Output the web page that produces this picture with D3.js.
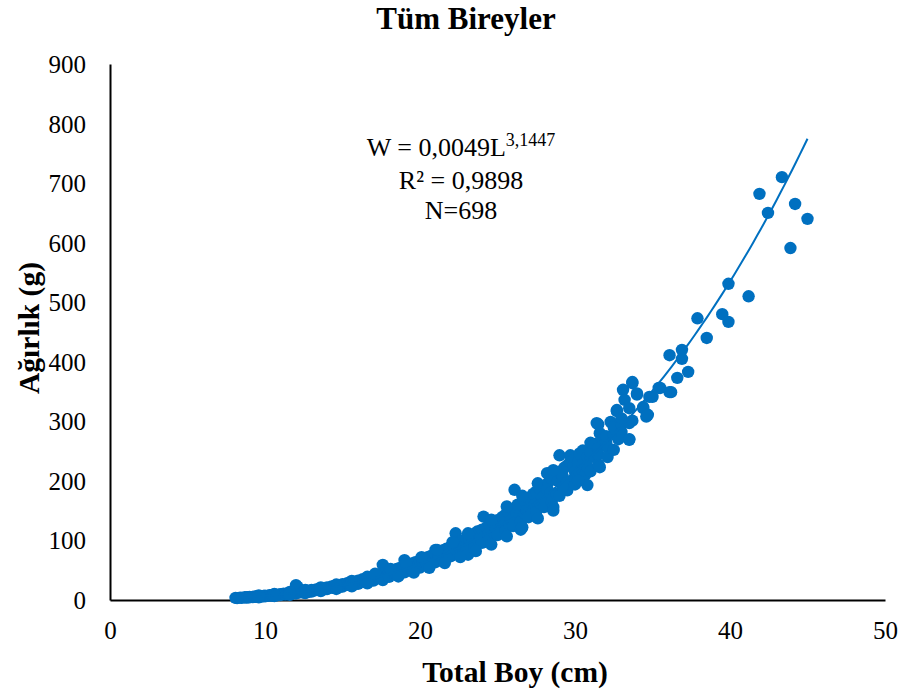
<!DOCTYPE html>
<html>
<head>
<meta charset="utf-8">
<script src="https://cdn.jsdelivr.net/npm/d3@7"></script>
<style>
  html, body { margin: 0; padding: 0; background: #fff; }
  svg { display: block; }
</style>
</head>
<body>
<svg id="chart" width="906" height="695"></svg>
<script>
// ---- Data ----
const chartTitle = "Tüm Bireyler";
const xAxisTitle = "Total Boy (cm)";
const yAxisTitle = "Ağırlık (g)";
const xTicks = [0, 10, 20, 30, 40, 50];
const yTicks = [0, 100, 200, 300, 400, 500, 600, 700, 800, 900];

// Trend line W = a * L^b as printed on the chart
const trendCoef = [0.0049, 3.1447];
const trendRange = [8, 45];
const annotationLines = ["R² = 0,9898", "N=698"];

// Individual fish [total length cm, weight g] – small fish
const smallFish = [
  [8.1,3.5],[8.2,3.2],[8.4,4.0],[8.5,3.6],[8.7,4.5],[8.8,4.1],[8.9,4.7],[9.0,5.2],[9.0,4.4],
  [9.2,5.0],[9.3,5.6],[9.4,5.6],[9.5,6.2],[9.5,5.3],[9.7,6.5],[9.8,5.9],[9.9,6.6],[10.0,7.3],
  [10.0,6.2],[10.2,7.0],[10.3,8.1],[10.4,7.6],[10.5,8.5],[10.5,7.2],[10.7,8.8],[10.8,8.0],
  [10.9,8.8],[11.0,9.9],[11.0,8.4],[11.2,10.5],[11.3,9.2],[11.4,10.1],[11.5,11.6],[11.5,9.8],
  [11.7,11.2],[11.8,12.4],[11.9,11.6],[12.0,13.2],[12.0,11.0],[12.0,25],[12.1,22],[12.2,12.6],
  [12.3,14.0],[12.4,13.2],[12.5,14.8],[12.5,12.5],[12.7,15.5],[12.8,13.8],[12.9,15.0],
  [13.0,16.8],[13.0,14.2],[13.2,16.0],[13.3,17.9],[13.4,17.0],[13.5,18.8],[13.5,16.5],
  [13.7,19.5],[13.8,17.8],[13.9,19.0],[14.0,21.0],[14.0,18.2],[14.2,20.5],[14.3,22.8],
  [14.4,20.8],[14.5,23.5],[14.5,20.0],[14.7,24.8],[14.8,22.0],[14.9,23.0],[15.0,26.5],
  [15.0,22.5],[15.2,25.5],[15.3,28.0],[15.4,25.5],[15.5,29.5],[15.5,24.8],[15.7,30.5],
  [15.8,27.5],[15.9,28.0],[16.0,32.5],[16.0,27.0],[16.2,31.0],[16.3,35.0],[16.4,31.0],
  [16.5,36.0],[16.5,30.0],[16.7,38.0],[16.8,33.0],[16.9,34.0],[17.0,40.0],[17.0,32.5],
  [17.2,38.5],[17.3,42.0],[17.4,37.0],[17.5,43.5],[17.5,36.0],[17.6,59],[17.7,45.0],
  [17.8,39.5],[17.9,41.0],
  [9.6,7.5],[10.6,10],[11.6,13.5],[12.6,17],[13.6,21],[14.6,26],[15.6,32],[16.6,39],[17.1,44],
  [9.6,4.5],[10.6,6.5],[11.6,8.6],[12.6,11.5],[13.6,15],[14.6,18.5],[15.6,23],[16.6,28],[17.6,33.5]
];

// medium fish
const mediumFish = [
  [18.0,47.5],[18.0,39.0],[18.2,46.0],[18.3,50.0],[18.4,45.0],[18.5,52.0],[18.5,42.5],
  [18.7,54.0],[18.8,47.0],[18.9,49.0],[19.0,56.5],[19.0,46.5],[19.0,67],[19.2,54.5],
  [19.3,59.0],[19.4,53.0],[19.5,61.5],[19.5,50.0],[19.7,63.5],[19.8,55.0],[19.9,58.0],
  [20.0,66.0],[20.0,54.5],[20.2,64.0],[20.3,69.5],[20.4,62.0],[20.5,72.0],[20.5,58.5],
  [20.7,74.0],[20.8,64.0],[20.9,67.0],[21.0,77.0],[21.0,63.5],[21.0,84],[21.2,75.0],
  [21.3,80.5],[21.4,72.0],[21.5,83.5],[21.5,68.0],[21.7,86.0],[21.8,74.5],[21.9,78.0],
  [22.0,90.0],[22.0,73.5],[22.2,87.5],[22.3,112],[22.4,94],[22.4,84],[22.5,96.5],[22.5,78.5],
  [22.7,99.5],[22.8,86.0],[22.9,91.0],[23.0,103],[23.0,84.0],[23.1,76],[23.2,101],[23.3,108],
  [23.4,97],[23.5,111],[23.5,90],[23.7,115],[23.8,98],[23.9,104],[24.0,118],[24.0,96],
  [24.1,140],[24.2,115],[24.3,122],[24.4,110],[24.5,126],[24.5,102],[24.7,130],[24.8,112],
  [24.9,120],[25.0,134],[25.0,109],[25.2,131],[25.3,139],[25.4,125],[25.5,143],[25.5,116],
  [25.7,148],[25.8,126],[25.9,135],[26.0,152],[26.0,124],[26.1,185],[26.2,149],[26.3,160],
  [26.4,140],[26.5,162],[26.5,118],[26.5,131],[26.7,168],[26.8,144],[26.9,150],[27.0,171],
  [27.0,139],[27.2,166],[27.3,178],[27.4,160],[27.5,182],[27.5,148],[27.7,188],[27.8,160],
  [27.9,172],
  [18.1,52],[19.1,62],[20.1,72],[21.1,84],[22.1,97],[23.1,112],[24.6,135],[25.6,157],
  [26.6,175],[27.6,196],
  [18.6,39.5],[19.6,46],[20.6,54],[21.6,62],[22.6,72],[23.6,82],[24.6,93],[25.6,107],
  [26.6,122],[27.6,137]
];

// large fish
const largeFish = [
  [28.0,192],[28.0,156],[28.2,213],[28.2,186],[28.3,198],[28.4,180],[28.5,203],[28.5,165],
  [28.6,156],[28.7,209],[28.8,178],[28.9,200],[29.0,214],[29.0,175],[29.0,243],[29.2,208],
  [29.3,222],[29.4,196],[29.5,226],[29.5,184],[29.7,243],[29.7,232],[29.8,198],[29.9,225],
  [30.0,238],[30.0,194],[30.0,215],[30.0,205],[30.2,231],[30.3,246],[30.5,251],[30.5,205],
  [30.5,228],[30.5,218],[30.7,212],[30.8,240],[30.8,223],[30.8,193],[31.0,264],[31.0,216],
  [31.0,240],[31.0,248],[31.2,260],[31.3,262],[31.4,297],[31.5,295],[31.5,228],[31.5,255],
  [31.5,245],[31.6,280],[31.6,223],[31.8,270],[32.0,265],[32.0,275],[32.1,257],[32.1,240],
  [32.3,299],[32.5,252],[32.5,278],[32.5,290],[32.7,319],[32.7,317],[32.8,270],[33.0,282],
  [33.0,295],[33.0,305],[33.1,353],[33.2,336],[33.5,297],[33.5,269],[33.5,322],[33.5,270],
  [33.7,364],[33.7,366],[33.7,301],[34.0,345],[34.0,347],[34.4,322],[34.4,324],[34.6,308],
  [34.7,311],[34.8,341],[35.0,341],[35.4,356],[35.5,356],[36.1,349],[36.1,411],[36.2,349],
  [36.6,373],[36.9,420],[36.9,405],[37.3,383],[37.9,473],[38.5,440],[39.5,480],[39.9,531],
  [39.9,467],[41.2,510],[41.9,682],[42.45,650],[43.35,710],[43.9,591],[44.2,665],[45.0,640],
  [28.6,218],[28.6,150],[29.2,190],[30.2,200]
];

// ---- Drawing ----
const svg = d3.select("#chart");
const plot = { left: 110, right: 885, top: 64, bottom: 600 };
const serif = "'Liberation Serif', 'Times New Roman', 'DejaVu Serif', serif";
const blue = "#0070C0";

const x = d3.scaleLinear().domain([0, 50]).range([plot.left, plot.right]);
const y = d3.scaleLinear().domain([0, 900]).range([plot.bottom, plot.top]);

// Title
svg.append("text")
  .attr("x", 466).attr("y", 29)
  .attr("text-anchor", "middle")
  .attr("font-family", serif).attr("font-weight", "bold").attr("font-size", 31)
  .text(chartTitle);

// Axes (lines only, no tick marks)
const xAxis = d3.axisBottom(x).tickValues(xTicks).tickSize(0).tickPadding(21).tickFormat(d3.format("d"));
const yAxis = d3.axisLeft(y).tickValues(yTicks).tickSize(0).tickPadding(24).tickFormat(d3.format("d"));

const gx = svg.append("g").attr("transform", `translate(0,${plot.bottom})`).call(xAxis);
const gy = svg.append("g").attr("transform", `translate(${plot.left},0)`).call(yAxis);

[gx, gy].forEach(g => {
  g.attr("font-family", serif).attr("font-size", 25);
  g.select(".domain").attr("stroke", "#000").attr("stroke-width", 2);
  g.selectAll("text").attr("font-family", serif).attr("font-size", 25).attr("fill", "#000");
});
gy.selectAll("text").attr("dy", "0.34em");
gx.selectAll("text").attr("dy", "0.71em");

// Axis titles
svg.append("text")
  .attr("x", 515).attr("y", 682)
  .attr("text-anchor", "middle")
  .attr("font-family", serif).attr("font-weight", "bold").attr("font-size", 29.5)
  .text(xAxisTitle);

svg.append("text")
  .attr("transform", `translate(39,${(plot.top + plot.bottom) / 2 - 4}) rotate(-90)`)
  .attr("text-anchor", "middle")
  .attr("font-family", serif).attr("font-weight", "bold").attr("font-size", 29.5)
  .text(yAxisTitle);

// Points
const allFish = smallFish.concat(mediumFish, largeFish);
svg.append("g").selectAll("circle")
  .data(allFish)
  .join("circle")
  .attr("cx", d => x(d[0]))
  .attr("cy", d => y(d[1]))
  .attr("r", 6.2)
  .attr("fill", blue);

// Trend line from printed equation
const trendX = d3.range(trendRange[0], trendRange[1] + 0.001, 0.25);
const trendPts = trendX.map(L => [L, trendCoef[0] * Math.pow(L, trendCoef[1])]);
svg.append("path")
  .datum(trendPts)
  .attr("fill", "none")
  .attr("stroke", blue)
  .attr("stroke-width", 2)
  .attr("d", d3.line().x(d => x(d[0])).y(d => y(d[1])).curve(d3.curveMonotoneX));

// Equation annotation
const eq = svg.append("text")
  .attr("x", 461).attr("y", 156)
  .attr("text-anchor", "middle")
  .attr("font-family", serif).attr("font-size", 26);
eq.append("tspan").text("W = " + String(trendCoef[0]).replace(".", ",") + "L");
eq.append("tspan").attr("font-size", 18).attr("dy", -10).text(String(trendCoef[1]).replace(".", ","));

annotationLines.forEach((t, i) => {
  svg.append("text")
    .attr("x", 461).attr("y", 189 + i * 30)
    .attr("text-anchor", "middle")
    .attr("font-family", serif).attr("font-size", 26)
    .text(t);
});
</script>
</body>
</html>
